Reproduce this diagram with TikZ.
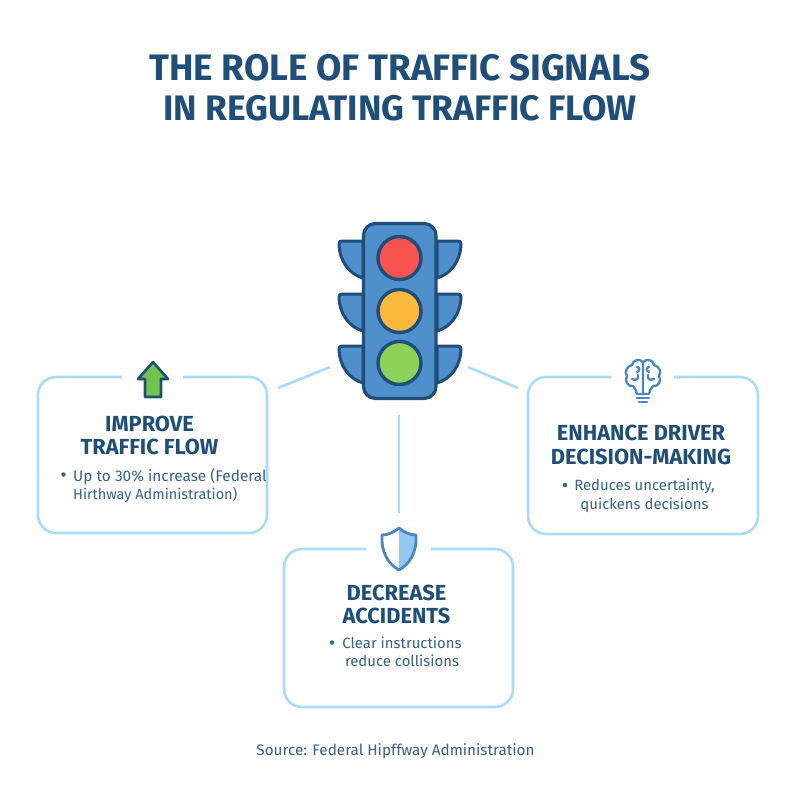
\documentclass[tikz,border=0pt]{standalone}
\usepackage{fontspec}
\setmainfont{Fira Sans}
\definecolor{navy}{HTML}{1F4E79}
\definecolor{txtblue}{HTML}{36638C}
\definecolor{cardline}{HTML}{A9DCF7}
\definecolor{signalblue}{HTML}{4F8FCB}
\definecolor{iconblue}{HTML}{4A86C0}
\definecolor{shieldfill}{HTML}{90C8F0}
\tikzset{
  card/.style={draw=cardline,line width=2.6pt,rounded corners=18pt,fill=white,inner sep=0pt},
  gapmask/.style={fill=white,inner sep=0pt},
  link/.style={draw=cardline,line width=2.6pt},
  heading/.style={text=navy,font=\fontsize{21.8}{23.5}\selectfont\bfseries,align=center,inner sep=0pt},
  body/.style={text=txtblue,font=\fontsize{15.4}{18.5}\selectfont,align=left,inner sep=0pt},
  bodyc/.style={text=txtblue,font=\fontsize{14.9}{18.5}\selectfont,align=center,inner sep=0pt},
  bulletdot/.style={circle,fill=txtblue,minimum size=4.5pt,inner sep=0pt},
  titletext/.style={text=navy,font=\fontsize{36.8}{40}\selectfont\bfseries,align=center,inner sep=0pt},
  visor/.style={draw=navy,line width=3pt,fill=signalblue,line join=round},
  lamp/.style={circle,draw=navy,line width=3.4pt,minimum size=43pt,inner sep=0pt},
  brainline/.style={draw=iconblue,line width=2.3pt,line cap=round,line join=round}
}
\begin{document}
\begin{tikzpicture}[x=1pt,y=-1pt]
\useasboundingbox (0,0) rectangle (800,800);
\fill[white] (0,0) rectangle (800,800);
\node[titletext] (title) at (400,88) {THE ROLE OF TRAFFIC SIGNALS\\{\fontsize{35.4}{40}\selectfont IN REGULATING TRAFFIC FLOW}};

% cards
\node[card,minimum width=229pt,minimum height=156pt] (flowcard) at (152.5,455) {};
\node[card,minimum width=230pt,minimum height=157pt] (drivercard) at (643,455.5) {};
\node[card,minimum width=229pt,minimum height=158pt] (safetycard) at (398.5,628) {};
\node[gapmask,minimum width=61pt,minimum height=8pt] (flowgap) at (152.5,377) {};
\node[gapmask,minimum width=63pt,minimum height=8pt] (drivergap) at (642.5,377) {};
\node[gapmask,minimum width=65pt,minimum height=8pt] (safetygap) at (398.5,549) {};

% connectors
\coordinate (hubL) at (330,367);
\coordinate (hubR) at (468,367);
\coordinate (hubB) at (399,415);
\coordinate (endL) at (278,388);
\coordinate (endR) at (518,388);
\coordinate (endB) at (399,513);
\draw[link] (hubL) -- (endL);
\draw[link] (hubR) -- (endR);
\draw[link] (hubB) -- (endB);

% signal visors
\foreach \t in {241,294,346}{
  \draw[visor] (363,\t) -- (342,\t) .. controls (340,\t) and (339,\t+1) .. (339,\t+3)
     .. controls (339.5,\t+20) and (349,\t+33) .. (363,\t+37) -- cycle;
  \draw[visor] (437,\t) -- (458,\t) .. controls (460,\t) and (461,\t+1) .. (461,\t+3)
     .. controls (460.5,\t+20) and (451,\t+33) .. (437,\t+37) -- cycle;
}
\draw[draw=navy,line width=3.2pt,fill=signalblue,rounded corners=12pt] (363.5,223.5) rectangle (436,398.5);
\node[lamp,fill={rgb,255:red,249;green,84;blue,79}] (red) at (399.5,258) {};
\node[lamp,fill={rgb,255:red,251;green,185;blue,60}] (amber) at (399.5,311) {};
\node[lamp,fill={rgb,255:red,140;green,210;blue,87}] (green) at (399.5,363) {};

% arrow icon
\draw[draw=navy,line width=2.6pt,fill={rgb,255:red,112;green,196;blue,76},line join=round]
  (153,362) -- (168,379) -- (161,379) -- (161,397) -- (145,397) -- (145,379) -- (138,379) -- cycle;

% brain icon
\draw[brainline]
  (643,362) .. controls (639,358) and (633,360) .. (632,365)
  .. controls (627,366) and (624,372) .. (627,376)
  .. controls (624,381) and (628,387) .. (633,386)
  .. controls (635,389) and (637,391) .. (637,394) -- (649,394)
  .. controls (649,391) and (651,389) .. (653,386)
  .. controls (658,387) and (662,381) .. (659,376)
  .. controls (662,372) and (659,366) .. (654,365)
  .. controls (653,360) and (647,358) .. (643,362) -- (643,394);
\draw[brainline] (637,367) .. controls (640,367) and (640,371) .. (637,372);
\draw[brainline] (632,379) .. controls (636,381) and (639,379) .. (638,375);
\draw[brainline] (649,367) .. controls (646,367) and (646,371) .. (649,372);
\draw[brainline] (654,379) .. controls (650,381) and (647,379) .. (648,375);
\draw[brainline] (637,398) -- (649,398);
\draw[brainline] (639,402) -- (647,402);

% shield icon
\fill[shieldfill] (399,528) .. controls (405,533) and (411,535) .. (416,535)
  .. controls (417,552) and (410,564) .. (399,570) -- cycle;
\draw[draw=iconblue,line width=2.8pt,line join=round]
  (399,528) .. controls (393,533) and (387,535) .. (382,535)
  .. controls (381,552) and (388,564) .. (399,570)
  .. controls (410,564) and (417,552) .. (416,535)
  .. controls (411,535) and (405,533) .. (399,528) -- cycle;

% card text
\node[heading] (flowhead) at (149.5,435.5) {IMPROVE\\TRAFFIC FLOW};
\node[body,anchor=north west] (flowbody) at (73,468) {Up to 30\% increase (Federal\\{\fontsize{14.5}{18.5}\selectfont Hirthway Administration)}};
\node[bulletdot] (flowdot) at (63.5,474.5) {};

\node[heading] (driverhead) at (641,445) {ENHANCE DRIVER\\DECISION-MAKING};
\node[bodyc,anchor=north] (driverbody) at (644.5,479) {Reduces uncertainty,\\quickens decisions};
\node[bulletdot] (driverdot) at (565,485) {};

\node[heading] (safetyhead) at (396.5,604.5) {DECREASE\\ACCIDENTS};
\node[bodyc,anchor=north] (safetybody) at (402,636.5) {Clear instructions\\reduce collisions};
\node[bulletdot] (safetydot) at (332,642.5) {};

\node[text=txtblue,inner sep=0pt,font=\fontsize{15.3}{18}\selectfont] (source) at (395.5,751) {Source: Federal Hipffway Administration};
\end{tikzpicture}
\end{document}
